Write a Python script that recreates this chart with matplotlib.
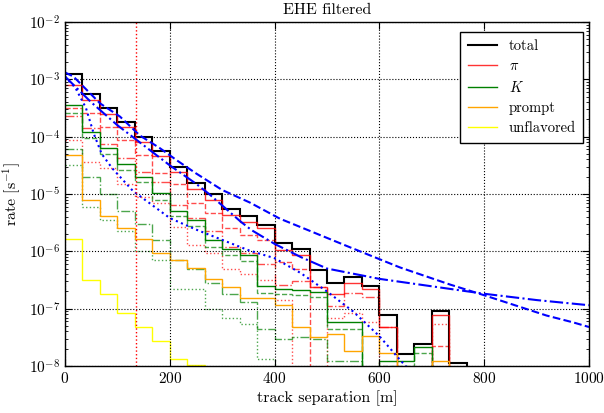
import numpy as np
import matplotlib
matplotlib.use("Agg")
import matplotlib.pyplot as plt

plt.rcParams['font.family'] = 'serif'
plt.rcParams['font.serif'] = ['cmr10']
plt.rcParams['mathtext.fontset'] = 'cm'
plt.rcParams['axes.formatter.use_mathtext'] = True
plt.rcParams['axes.unicode_minus'] = False

# --- histogram binning: 30 bins over 0..1000 m ---
n_bins = 30
x_max = 1000.0
edges = np.linspace(0, x_max, n_bins + 1)

# per-bin rates [1/s] (bins beyond the list are empty)
total = [1.22e-3, 5.61e-4, 3.16e-4, 1.80e-4, 9.87e-5, 5.56e-5, 2.99e-5, 1.56e-5,
         9.88e-6, 5.48e-6, 4.13e-6, 2.88e-6, 1.38e-6, 1.10e-6, 4.72e-7, 2.84e-7,
         3.61e-7, 2.48e-7, 7.74e-8, 1.60e-8, 2.39e-8, 9.1e-8, 1.14e-8]
pion = [7.87e-4, 4.36e-4, 2.49e-4, 1.46e-4, 8.07e-5, 4.60e-5, 2.42e-5, 1.21e-5,
        7.85e-6, 4.30e-6, 3.25e-6, 2.52e-6, 1.05e-6, 8.63e-7, 2.42e-7, 1.80e-7,
        2.77e-7, 2.18e-7, 4.84e-8, 0, 0, 7.74e-8, 0]
kaon = [3.52e-4, 1.21e-4, 6.34e-5, 3.33e-5, 2.00e-5, 1.03e-5, 5.12e-6, 3.52e-6,
        1.58e-6, 1.10e-6, 8.63e-7, 2.48e-7, 2.18e-7, 2.12e-7, 1.98e-7, 5.74e-8,
        5.74e-8, 0, 1.21e-8, 1.21e-8, 2.17e-8, 0, 0]
prompt = [4.84e-5, 7.85e-6, 4.13e-6, 2.52e-6, 1.62e-6, 9.46e-7, 7.06e-7, 5.18e-7,
          3.25e-7, 2.36e-7, 1.55e-7, 1.55e-7, 1.14e-7, 4.84e-8, 3.24e-8, 3.61e-8,
          1.85e-8, 3.33e-8, 1.66e-8, 0, 0, 1.24e-8, 0]
unflavored = [1.61e-6, 3.16e-7, 1.78e-7, 8.5e-8, 4.84e-8, 2.76e-8, 1.31e-8, 1.03e-8]

# sub-components (dashed / dash-dot / dotted)
pion_a = [3.2e-4, 2.6e-4, 1.46e-4, 8.8e-5, 4.8e-5, 2.3e-5, 1.5e-5, 7.0e-6, 4.6e-6,
          2.6e-6, 1.9e-6, 1.6e-6, 6.5e-7, 5.0e-7, 0, 0, 0, 0, 0, 0, 0, 2.2e-8, 0]
pion_b = [2.3e-4, 1.4e-4, 7.5e-5, 4.3e-5, 2.4e-5, 1.6e-5, 6.5e-6, 3.8e-6, 2.3e-6,
          1.2e-6, 9.5e-7, 6.0e-7, 2.6e-7, 3.0e-7, 2.4e-7, 1.1e-7, 1.9e-7, 1.6e-7,
          4.8e-8, 0, 0, 0, 0]
pion_c = [8.7e-5, 3.6e-5, 2.8e-5, 1.5e-5, 8.7e-6, 7.0e-6, 2.7e-6, 1.3e-6, 9.5e-7,
          5.0e-7, 4.0e-7, 3.2e-7, 1.4e-7, 0, 0, 6.9e-8, 8.5e-8, 5.8e-8, 0, 0, 0,
          5.5e-8, 0]
kaon_a = [2.6e-4, 9.5e-5, 5.0e-5, 2.6e-5, 1.6e-5, 8.0e-6, 4.2e-6, 2.8e-6, 1.2e-6,
          8.5e-7, 6.8e-7, 1.9e-7, 1.8e-7, 1.7e-7, 1.6e-7, 4.5e-8, 4.5e-8, 0,
          1.0e-8, 1.0e-8, 1.7e-8, 0, 0]
kaon_b = [6.0e-5, 2.0e-5, 1.0e-5, 5.0e-6, 3.0e-6, 1.6e-6, 7.0e-7, 5.0e-7, 2.8e-7,
          1.8e-7, 1.3e-7, 4.5e-8, 3.0e-8, 3.2e-8, 3.0e-8, 1.2e-8, 1.2e-8]
kaon_c = [3.2e-5, 6.0e-6, 3.5e-6, 2.3e-6, 1.0e-6, 7.0e-7, 2.2e-7, 2.2e-7, 1.0e-7,
          7.0e-8, 5.3e-8, 1.3e-8]

# smooth model curves: separation [m] and log10(rate)
fit_dash_x = [0, 16, 67, 105, 143, 181, 213, 250, 300, 353, 410, 461, 544, 639,
              735, 798, 919, 970, 1000]
fit_dash_y = [-2.88, -2.95, -3.42, -3.65, -3.98, -4.20, -4.41, -4.64, -4.93, -5.15,
              -5.43, -5.62, -5.93, -6.28, -6.58, -6.76, -7.12, -7.24, -7.32]
fit_dot_x = [0, 20, 40, 55, 70, 90, 110, 130, 160, 200, 250, 300, 350, 400, 450,
             500, 550, 600, 640, 660]
fit_dot_y = [-2.95, -3.15, -3.5, -3.95, -4.3, -4.55, -4.75, -4.95, -5.15, -5.42,
             -5.62, -5.8, -5.98, -6.12, -6.38, -6.7, -7.05, -7.48, -7.9, -8.1]
fit_dashdot_x = [0, 50, 100, 150, 200, 250, 275, 300, 335, 356, 400, 450, 500,
                 600, 700, 800, 900, 1000]
fit_dashdot_y = [-2.95, -3.4, -3.8, -4.15, -4.5, -4.82, -5.0, -5.2, -5.48, -5.63,
                 -5.87, -6.1, -6.3, -6.48, -6.61, -6.74, -6.85, -6.94]

cut_position = 135.0


def padded(values):
    """Pad a per-bin list with empty bins up to n_bins."""
    return np.array(list(values) + [0.0] * (n_bins - len(values)))


fig = plt.figure(figsize=(6.04, 4.13), dpi=100)
ax = fig.add_axes([0.1076, 0.1138, 0.8676, 0.8329])
ax.set_yscale('log', nonpositive='clip')

# model curves
ax.plot(fit_dash_x, 10 ** np.array(fit_dash_y), color='b', ls='--', lw=1.5)
ax.plot(fit_dot_x, 10 ** np.array(fit_dot_y), color='b', ls=':', lw=1.5)
ax.plot(fit_dashdot_x, 10 ** np.array(fit_dashdot_y), color='b', ls='-.', lw=1.5)

# components
for comp, ls in [(pion_a, '--'), (pion_b, '-.'), (pion_c, ':')]:
    ax.stairs(padded(comp), edges, baseline=None, color='red', ls=ls, lw=1.0, alpha=0.7)
for comp, ls in [(kaon_a, '--'), (kaon_b, '-.'), (kaon_c, ':')]:
    ax.stairs(padded(comp), edges, baseline=None, color='green', ls=ls, lw=1.0, alpha=0.7)

# main histograms
ax.stairs(padded(total), edges, baseline=None, color='k', lw=1.5, label='total')
ax.stairs(padded(pion), edges, baseline=None, color='red', lw=1.0, alpha=0.8, label=r'$\pi$')
ax.stairs(padded(kaon), edges, baseline=None, color='green', lw=1.0, label=r'$K$')
ax.stairs(padded(prompt), edges, baseline=None, color='orange', lw=1.0, label='prompt')
ax.stairs(padded(unflavored), edges, baseline=None, color='yellow', lw=1.0, label='unflavored')

ax.axvline(cut_position, color='red', ls=':', lw=1.0)

ax.set_xlim(0, x_max)
ax.set_ylim(1e-8, 1e-2)
ax.set_xticks([0, 200, 400, 600, 800, 1000])
ax.grid(True, which='major', color='k', ls=':', lw=0.8)
ax.tick_params(which='both', direction='in', top=True, right=True, labelsize=11)
ax.tick_params(which='major', length=5)
ax.tick_params(which='minor', length=2.5)
for s in ax.spines.values():
    s.set_linewidth(1.0)

ax.set_xlabel('track separation [m]', fontsize=11.5, labelpad=3)
ax.set_ylabel(r'rate [s$^{-1}$]', fontsize=11.5)
ax.set_title('EHE filtered', fontsize=11.5)

leg = ax.legend(loc='upper right', bbox_to_anchor=(0.9885, 0.971), fontsize=10.5,
                fancybox=False, framealpha=1, edgecolor='k', handlelength=2.0,
                borderpad=0.5, labelspacing=0.45, borderaxespad=0)
leg.get_frame().set_linewidth(1.0)

fig.savefig('out.png', dpi=100)
